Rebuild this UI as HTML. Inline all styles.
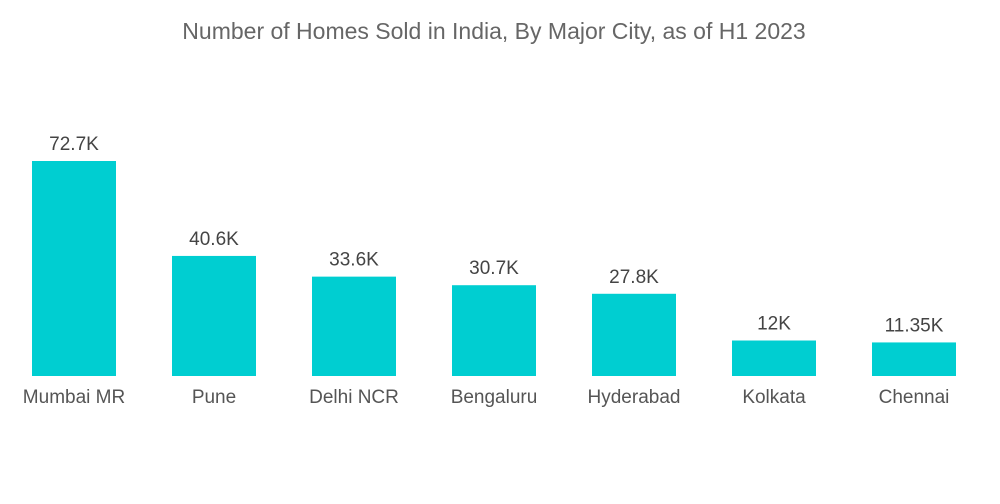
<!DOCTYPE html>
<html><head><meta charset="utf-8"><style>
body{margin:0;background:#fff;font-family:"Liberation Sans",sans-serif;}
svg{display:block}
</style></head><body>
<svg id="chart" width="1000" height="504">
<text x="494" y="39" text-anchor="middle" font-size="23" fill="#666">Number of Homes Sold in India, By Major City, as of H1 2023</text>
<g id="bars"></g>
</svg>
<script>
const categories=["Mumbai MR","Pune","Delhi NCR","Bengaluru","Hyderabad","Kolkata","Chennai"];
const values=[72.7,40.6,33.6,30.7,27.8,12,11.35];
const valueLabels=["72.7K","40.6K","33.6K","30.7K","27.8K","12K","11.35K"];
const base=376, scale=215/72.7;
const x=i=>32+i*140, y=v=>base-v*scale;
const g=document.getElementById('bars'), ns="http://www.w3.org/2000/svg";
categories.forEach((c,i)=>{
  const r=document.createElementNS(ns,'rect');
  r.setAttribute('x',x(i));r.setAttribute('y',y(values[i]));
  r.setAttribute('width',84);r.setAttribute('height',base-y(values[i]));
  r.setAttribute('fill','#00ced1');
  
  
  g.appendChild(r);
  const t=document.createElementNS(ns,'text');
  t.setAttribute('x',x(i)+42);t.setAttribute('y',y(values[i])-11);
  t.setAttribute('text-anchor','middle');t.setAttribute('font-size','19');t.setAttribute('fill','#444');
  t.textContent=valueLabels[i];
  
  
  g.appendChild(t);
  const l=document.createElementNS(ns,'text');
  l.setAttribute('x',x(i)+42);l.setAttribute('y',403);
  l.setAttribute('text-anchor','middle');l.setAttribute('font-size','19');l.setAttribute('fill','#555');
  l.textContent=c;
  
  
  g.appendChild(l);
});
</script>
</body></html>
